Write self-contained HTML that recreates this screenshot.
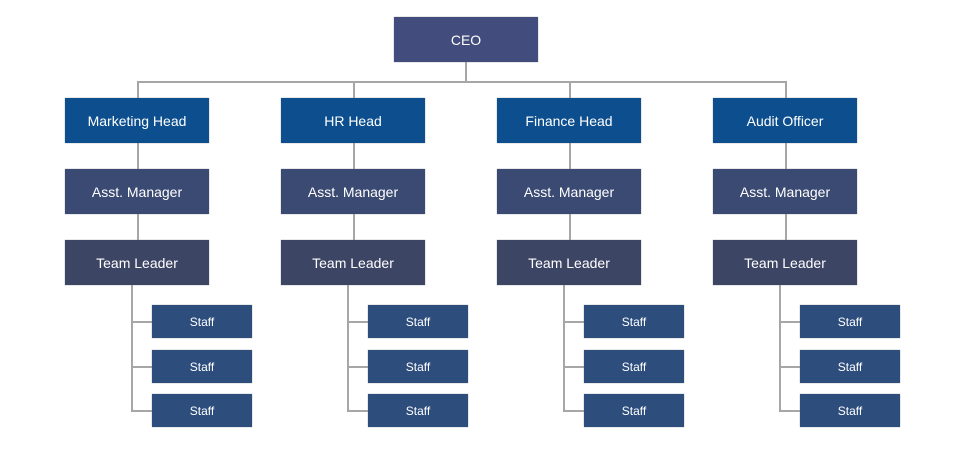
<!DOCTYPE html>
<html><head><meta charset="utf-8"><style>
body{margin:0;width:976px;height:458px;background:#fff;position:relative;overflow:hidden;font-family:"Liberation Sans",sans-serif}
.b{position:absolute;color:#fff;display:flex;align-items:center;justify-content:center;font-size:14px;box-shadow:0 0 1px #888}
.l{position:absolute;background:#a6a6a6}
.ceo{background:#434d7d}
.h{background:#0d4f8e}
.a{background:#3a4a72}
.t{background:#3d4565}
.s{background:#2d4d7d;font-size:12px}
</style></head><body>
<div class="l" style="left:465px;top:62px;width:2px;height:21px"></div>
<div class="l" style="left:137px;top:81px;width:650px;height:2px"></div>
<div class="b ceo" style="left:394px;top:17px;width:144px;height:45px">CEO</div>

<!-- col 1 -->
<div class="l" style="left:137px;top:81px;width:2px;height:160px"></div>
<div class="l" style="left:131px;top:285px;width:2px;height:127px"></div>
<div class="l" style="left:131px;top:321px;width:21px;height:2px"></div>
<div class="l" style="left:131px;top:366px;width:21px;height:2px"></div>
<div class="l" style="left:131px;top:410px;width:21px;height:2px"></div>
<div class="b h" style="left:65px;top:98px;width:144px;height:45px">Marketing Head</div>
<div class="b a" style="left:65px;top:169px;width:144px;height:45px">Asst. Manager</div>
<div class="b t" style="left:65px;top:240px;width:144px;height:45px">Team Leader</div>
<div class="b s" style="left:152px;top:305px;width:100px;height:33px">Staff</div>
<div class="b s" style="left:152px;top:350px;width:100px;height:33px">Staff</div>
<div class="b s" style="left:152px;top:394px;width:100px;height:33px">Staff</div>

<!-- col 2 -->
<div class="l" style="left:353px;top:81px;width:2px;height:160px"></div>
<div class="l" style="left:347px;top:285px;width:2px;height:127px"></div>
<div class="l" style="left:347px;top:321px;width:21px;height:2px"></div>
<div class="l" style="left:347px;top:366px;width:21px;height:2px"></div>
<div class="l" style="left:347px;top:410px;width:21px;height:2px"></div>
<div class="b h" style="left:281px;top:98px;width:144px;height:45px">HR Head</div>
<div class="b a" style="left:281px;top:169px;width:144px;height:45px">Asst. Manager</div>
<div class="b t" style="left:281px;top:240px;width:144px;height:45px">Team Leader</div>
<div class="b s" style="left:368px;top:305px;width:100px;height:33px">Staff</div>
<div class="b s" style="left:368px;top:350px;width:100px;height:33px">Staff</div>
<div class="b s" style="left:368px;top:394px;width:100px;height:33px">Staff</div>

<!-- col 3 -->
<div class="l" style="left:569px;top:81px;width:2px;height:160px"></div>
<div class="l" style="left:563px;top:285px;width:2px;height:127px"></div>
<div class="l" style="left:563px;top:321px;width:21px;height:2px"></div>
<div class="l" style="left:563px;top:366px;width:21px;height:2px"></div>
<div class="l" style="left:563px;top:410px;width:21px;height:2px"></div>
<div class="b h" style="left:497px;top:98px;width:144px;height:45px">Finance Head</div>
<div class="b a" style="left:497px;top:169px;width:144px;height:45px">Asst. Manager</div>
<div class="b t" style="left:497px;top:240px;width:144px;height:45px">Team Leader</div>
<div class="b s" style="left:584px;top:305px;width:100px;height:33px">Staff</div>
<div class="b s" style="left:584px;top:350px;width:100px;height:33px">Staff</div>
<div class="b s" style="left:584px;top:394px;width:100px;height:33px">Staff</div>

<!-- col 4 -->
<div class="l" style="left:785px;top:81px;width:2px;height:160px"></div>
<div class="l" style="left:779px;top:285px;width:2px;height:127px"></div>
<div class="l" style="left:779px;top:321px;width:21px;height:2px"></div>
<div class="l" style="left:779px;top:366px;width:21px;height:2px"></div>
<div class="l" style="left:779px;top:410px;width:21px;height:2px"></div>
<div class="b h" style="left:713px;top:98px;width:144px;height:45px">Audit Officer</div>
<div class="b a" style="left:713px;top:169px;width:144px;height:45px">Asst. Manager</div>
<div class="b t" style="left:713px;top:240px;width:144px;height:45px">Team Leader</div>
<div class="b s" style="left:800px;top:305px;width:100px;height:33px">Staff</div>
<div class="b s" style="left:800px;top:350px;width:100px;height:33px">Staff</div>
<div class="b s" style="left:800px;top:394px;width:100px;height:33px">Staff</div>
</body></html>
